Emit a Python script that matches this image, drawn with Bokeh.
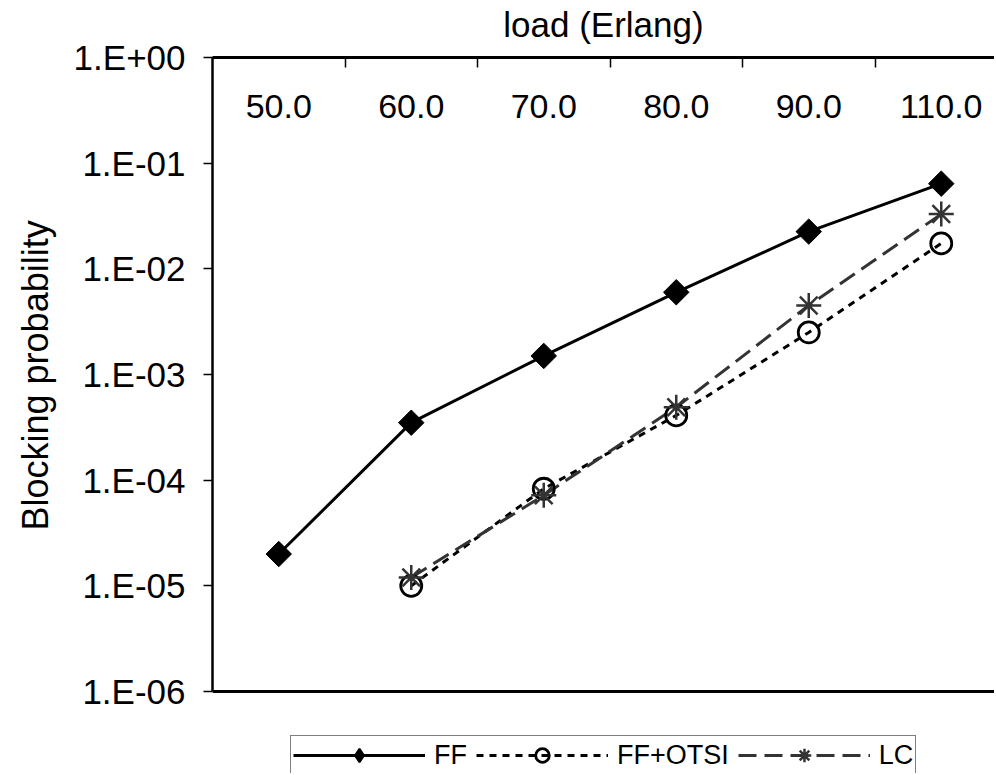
import numpy as np
from bokeh.plotting import figure
from bokeh.models import (Range1d, FixedTicker, CustomJSTickFormatter,
                          Legend, LegendItem, Span, Title)
from bokeh.embed import file_html
from bokeh.resources import INLINE

# ---------------- data ----------------
loads = ["50.0", "60.0", "70.0", "80.0", "90.0", "110.0"]
ff = [2.0e-5, 3.5e-4, 1.5e-3, 6.0e-3, 2.25e-2, 6.4e-2]
otsi_loads = ["60.0", "70.0", "80.0", "90.0", "110.0"]
ff_otsi = [1.0e-5, 8.3e-5, 4.1e-4, 2.5e-3, 1.74e-2]
lc_loads = ["60.0", "70.0", "80.0", "90.0", "110.0"]
lc = [1.2e-5, 7.2e-5, 4.9e-4, 4.5e-3, 3.3e-2]
y_ticks = [1e-6, 1e-5, 1e-4, 1e-3, 1e-2, 1e-1, 1e0]
series_names = ["FF", "FF+OTSI", "LC"]

FONT = "Liberation Sans"


def xpos(cats):
    return [loads.index(c) + 0.5 for c in cats]


W, H = 994, 773
FRAME_LEFT, FRAME_TOP = 212, 57
DECADE_PX = 105.67
CAT_PX = 132.5
y_low = 10 ** (-(H - FRAME_TOP) / DECADE_PX)

p = figure(width=W, height=H, output_backend="svg", toolbar_location=None,
           y_axis_type="log", x_axis_location="above",
           x_range=Range1d(0, (W - FRAME_LEFT) / CAT_PX),
           y_range=Range1d(y_low, y_ticks[-1]),
           min_border_left=FRAME_LEFT, min_border_top=FRAME_TOP,
           min_border_right=0, min_border_bottom=0)
p.outline_line_color = None
p.grid.visible = False
p.background_fill_color = "white"
p.border_fill_color = "white"

# bottom border of the plot area
p.add_layout(Span(location=y_ticks[0], dimension="width", line_color="black",
                  line_width=3))

# ---------------- series ----------------
r_otsi_line = p.line(xpos(otsi_loads), ff_otsi, line_color="black", line_width=3,
                     line_dash="7 6")
r_lc_line = p.line(xpos(lc_loads), lc, line_color="#333333", line_width=3,
                   line_dash="18 8")
r_otsi_m = p.scatter(xpos(otsi_loads), ff_otsi, marker="circle", size=21,
                     fill_alpha=0, line_color="black", line_width=2.8)
r_lc_m = p.scatter(xpos(lc_loads), lc, marker="asterisk", size=25,
                   line_color="#333333", line_width=2.5)
r_ff_line = p.line(xpos(loads), ff, line_color="black", line_width=3)
r_ff_m = p.scatter(xpos(loads), ff, marker="square", size=18, angle=np.pi / 4,
                   fill_color="black", line_color="black")
# hidden twin of the FF markers, used only to draw a diamond in the key
leg_ff_m = p.scatter(xpos(loads), ff, marker="diamond", fill_color="black",
                     line_color="black", line_width=2, visible=False)

# ---------------- axes ----------------
top = p.xaxis[0]
top.ticker = FixedTicker(ticks=xpos(loads),
                         minor_ticks=list(range(1, len(loads))))
top.major_label_overrides = {x: lab for x, lab in zip(xpos(loads), loads)}
top.major_tick_in = 0
top.major_tick_out = 0
top.minor_tick_in = 10
top.minor_tick_out = 0
top.minor_tick_line_width = 1.5
top.minor_tick_line_color = "black"
top.major_label_text_font = FONT
top.major_label_text_font_size = "34px"
top.major_label_text_color = "black"
top.major_label_standoff = -60
top.axis_line_width = 3
top.axis_label = "load (Erlang)"
top.axis_label_text_font = FONT
top.axis_label_text_font_size = "35px"
top.axis_label_text_font_style = "normal"
top.axis_label_text_color = "black"
top.axis_label_standoff = 48

left = p.yaxis[0]
left.bounds = (y_ticks[0], y_ticks[-1])
left.ticker = FixedTicker(ticks=y_ticks)
left.formatter = CustomJSTickFormatter(code="""
const e = Math.round(Math.log10(tick));
const s = e < 0 ? "-" : "+";
const a = Math.abs(e);
return "1.E" + s + (a < 10 ? "0" : "") + a;
""")
left.axis_line_width = 2.5
left.major_tick_out = 9
left.major_tick_in = 0
left.major_tick_line_width = 1.5
left.minor_tick_line_color = None
left.major_label_standoff = 18
left.major_label_text_font = FONT
left.major_label_text_font_size = "35px"
left.major_label_text_color = "black"

ylabel = Title(text="Blocking probability", align="left", offset=243,
               vertical_align="top", text_font=FONT, text_font_size="36px",
               text_font_style="normal", text_color="black", standoff=26)
p.add_layout(ylabel, "left")

# ---------------- legend ----------------
legend = Legend(items=[
    LegendItem(label=series_names[0], renderers=[r_ff_line, leg_ff_m]),
    LegendItem(label=series_names[1], renderers=[r_otsi_line, r_otsi_m]),
    LegendItem(label=series_names[2], renderers=[r_lc_line, r_lc_m]),
], location=(78, -2), orientation="horizontal", glyph_width=132,
    glyph_height=34, label_standoff=9, spacing=9, padding=2,
    label_text_font=FONT, label_text_font_size="27px", label_text_color="black",
    border_line_color="black", border_line_width=1, background_fill_alpha=1,
    inactive_fill_alpha=0)
p.add_layout(legend)

open("out.html", "w").write(file_html(p, INLINE))
